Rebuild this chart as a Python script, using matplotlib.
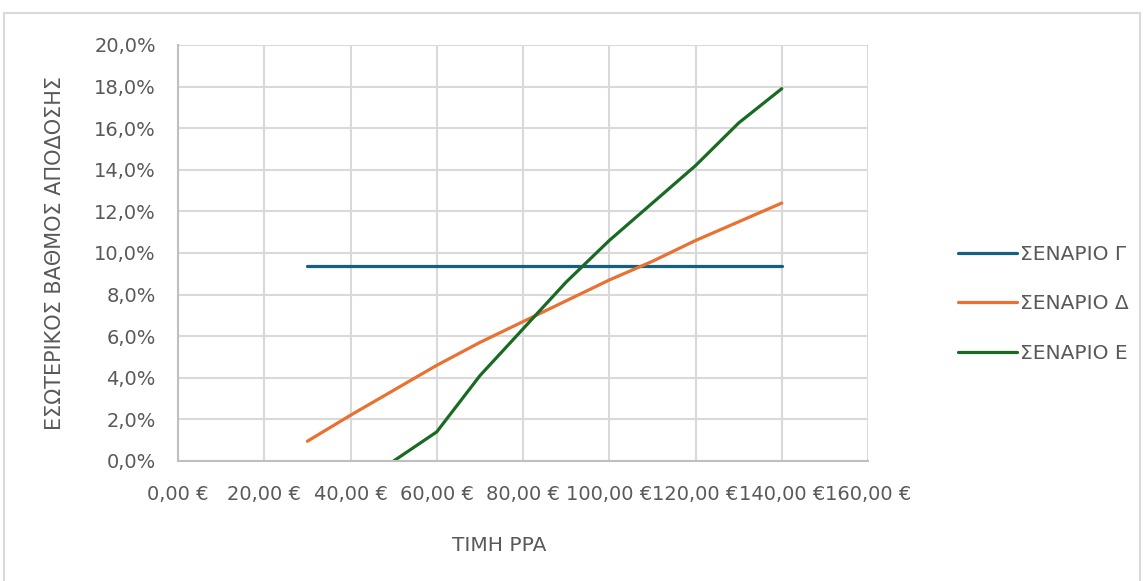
import matplotlib.pyplot as plt
from matplotlib.patches import Rectangle
from matplotlib.ticker import FuncFormatter

plt.rcParams['font.family'] = ['DejaVu Sans']

# Data
price = [30, 40, 50, 60, 70, 80, 90, 100, 110, 120, 130, 140]
irr_g = [9.37] * 12
irr_d = [0.95, 2.2, 3.4, 4.6, 5.7, 6.7, 7.7, 8.7, 9.6, 10.6, 11.5, 12.4]
price_e = [50, 60, 70, 80, 90, 100, 110, 120, 130, 140]
irr_e = [0.0, 1.4, 4.1, 6.35, 8.6, 10.6, 12.4, 14.2, 16.25, 17.9]

labels = ['ΣΕΝΑΡΙΟ Γ', 'ΣΕΝΑΡΙΟ Δ', 'ΣΕΝΑΡΙΟ Ε']
colors = ['#156082', '#E97132', '#196B24']
txt = '#595959'

fig = plt.figure(figsize=(11.48, 5.81), dpi=100)
ax = fig.add_axes([178 / 1148, 1 - 461 / 581, 690 / 1148, 416 / 581])

# chart border
fig.patches.append(Rectangle((4 / 1148, -0.01), 1136 / 1148, 1 - 13 / 581 + 0.01,
                             transform=fig.transFigure, fill=False,
                             edgecolor='#D9D9D9', lw=1.5))

ax.plot(price, irr_g, color=colors[0], lw=2.3, label=labels[0], solid_capstyle='round')
ax.plot(price, irr_d, color=colors[1], lw=2.3, label=labels[1], solid_capstyle='round')
ax.plot(price_e, irr_e, color=colors[2], lw=2.3, label=labels[2], solid_capstyle='round')

ax.set_xlim(0, 160)
ax.set_ylim(0, 20)
ax.set_xticks(range(0, 161, 20))
ax.set_yticks(range(0, 21, 2))
ax.xaxis.set_major_formatter(FuncFormatter(lambda v, p: f'{v:.2f}'.replace('.', ',') + ' €'))
ax.yaxis.set_major_formatter(FuncFormatter(lambda v, p: f'{v:.1f}'.replace('.', ',') + '%'))
ax.grid(True, color='#D9D9D9', lw=1.5)
ax.set_axisbelow(True)
ax.tick_params(length=0, labelsize=14, colors=txt)
ax.tick_params(axis='x', pad=17)
ax.tick_params(axis='y', pad=16)
for s in ['top', 'right']:
    ax.spines[s].set_visible(False)
for s in ['left', 'bottom']:
    ax.spines[s].set_color('#BFBFBF')
    ax.spines[s].set_linewidth(1.5)

ax.set_xlabel('ΤΙΜΗ PPA', fontsize=14.5, color=txt)
ax.xaxis.set_label_coords(0.465, -(536 - 461) / 416)
ax.set_ylabel('ΕΣΩΤΕΡΙΚΟΣ ΒΑΘΜΟΣ ΑΠΟΔΟΣΗΣ', fontsize=15, color=txt)
ax.yaxis.set_label_coords(-(178 - 65) / 690, 0.5)

ax.legend(loc='center left', bbox_to_anchor=(940 / 1148, 1 - 304 / 581),
          bbox_transform=fig.transFigure, frameon=False, fontsize=14.5,
          handlelength=2.9, handletextpad=0.15, labelspacing=1.5, labelcolor=txt)

fig.savefig('out.png', dpi=100)
